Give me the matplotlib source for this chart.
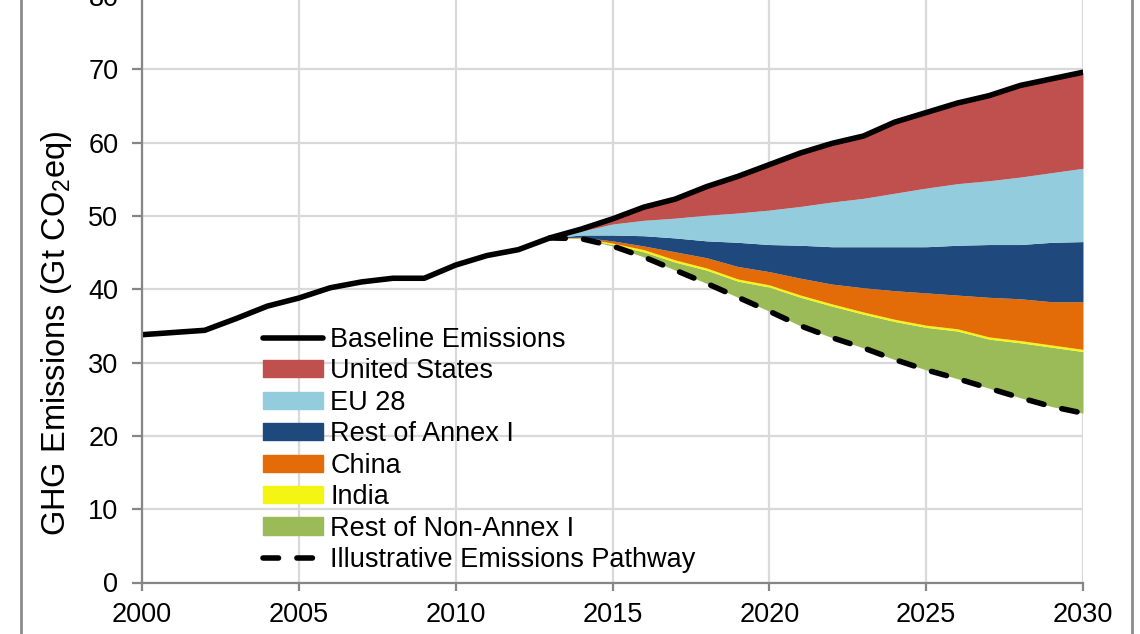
import matplotlib
matplotlib.use("Agg")
import matplotlib.pyplot as plt
from matplotlib.lines import Line2D
import numpy as np

plt.rcParams['font.family'] = ['Liberation Sans', 'DejaVu Sans']
plt.rcParams['mathtext.fontset'] = 'custom'
plt.rcParams['mathtext.rm'] = 'Liberation Sans'
plt.rcParams['mathtext.it'] = 'Liberation Sans'

# Baseline emissions, Gt CO2eq per year
base_years = list(range(2000, 2031))
baseline = [33.8, 34.1, 34.4, 36.0, 37.7, 38.8, 40.2, 41.0, 41.5, 41.5,
            43.3, 44.6, 45.4, 47.0, 48.2, 49.6, 51.2, 52.3, 54.0, 55.4,
            57.0, 58.6, 59.9, 60.9, 62.8, 64.1, 65.4, 66.4, 67.8, 68.7, 69.6]

# Illustrative pathway and regional contributions to the reduction
path_years = list(range(2013, 2031))
pathway = [47.0, 46.9, 45.9, 44.4, 42.6, 40.8, 38.9, 37.0, 35.0, 33.4,
           32.0, 30.4, 29.0, 27.8, 26.5, 25.2, 24.0, 23.1]
rest_non_annex1 = [0.0, 0.05, 0.2, 0.7, 1.1, 1.8, 2.2, 3.3, 3.9, 4.3,
                   4.6, 5.2, 5.8, 6.5, 6.7, 7.5, 8.1, 8.4]
india = [0.0, 0.05, 0.2, 0.3, 0.3, 0.3, 0.3, 0.3, 0.3, 0.3,
         0.3, 0.3, 0.3, 0.3, 0.3, 0.3, 0.3, 0.3]
china = [0.0, 0.1, 0.3, 0.5, 1.1, 1.4, 1.7, 1.8, 2.3, 2.7,
         3.3, 3.9, 4.4, 4.6, 5.4, 5.7, 5.9, 6.5]
rest_annex1 = [0.0, 0.3, 0.8, 1.4, 1.9, 2.3, 3.3, 3.7, 4.5, 5.1,
               5.6, 6.0, 6.3, 6.8, 7.2, 7.4, 8.1, 8.2]
eu28 = [0.0, 0.5, 1.5, 2.1, 2.7, 3.5, 4.0, 4.7, 5.3, 6.1,
        6.6, 7.3, 8.0, 8.4, 8.7, 9.2, 9.5, 10.0]
united_states = [0.0, 0.3, 0.7, 1.8, 2.6, 3.9, 5.0, 6.2, 7.3, 8.0,
                 8.5, 9.7, 10.3, 11.0, 11.6, 12.5, 12.8, 13.1]

region_names = ['Rest of Non-Annex I', 'India', 'China', 'Rest of Annex I',
                'EU 28', 'United States']
region_values = [rest_non_annex1, india, china, rest_annex1, eu28, united_states]
region_colors = ['#9BBB59', '#F5F514', '#E36C09', '#1F497D', '#93CDDD', '#C0504D']

x_ticks = [2000, 2005, 2010, 2015, 2020, 2025, 2030]
y_ticks = [0, 10, 20, 30, 40, 50, 60, 70, 80]

FS = 19.5
W, H = 1140, 634
fig = plt.figure(figsize=(W / 100, H / 100), dpi=100)
ax = fig.add_axes([142 / W, (H - 582.5) / H, (1083 - 142) / W, 586.5 / H])

# stacked reduction wedges sitting on the pathway
lower = np.array(pathway, dtype=float)
handles = {}
for name, vals, col in zip(region_names, region_values, region_colors):
    upper = lower + np.array(vals)
    ax.fill_between(path_years, lower, upper, color=col, linewidth=0, zorder=2)
    handles[name] = plt.Rectangle((0, 0), 1, 1, color=col)
    lower = upper

LW = 4.0
ax.plot(base_years, baseline, color='black', lw=LW, solid_capstyle='round',
        solid_joinstyle='round', zorder=4)
ax.plot(path_years, pathway, color='black', lw=LW, dashes=(2.8, 3.3),
        dash_capstyle='round', zorder=4)

ax.set_xlim(2000, 2030)
ax.set_ylim(0, 80)
ax.set_xticks(x_ticks)
ax.set_yticks(y_ticks)
ax.tick_params(axis='both', labelsize=FS, colors='#868686', labelcolor='black',
               width=1.6)
ax.tick_params(axis='y', length=7, pad=10)
ax.tick_params(axis='x', length=6, pad=8)
ax.grid(True, color='#D9D9D9', lw=1.6, zorder=0)
ax.set_axisbelow(True)
for side in ('top', 'right'):
    ax.spines[side].set_visible(False)
for side in ('left', 'bottom'):
    ax.spines[side].set_color('#868686')
    ax.spines[side].set_linewidth(1.6)
    ax.spines[side].set_zorder(5)

fig.text(57 / W, (H - 333) / H, r'GHG Emissions (Gt CO$_\mathregular{2}$eq)',
         rotation=90, ha='center', va='center', fontsize=23.5)

leg_handles = [Line2D([], [], color='black', lw=LW, solid_capstyle='round')]
leg_labels = ['Baseline Emissions']
for name in ['United States', 'EU 28', 'Rest of Annex I', 'China', 'India',
             'Rest of Non-Annex I']:
    leg_handles.append(handles[name])
    leg_labels.append(name)
leg_handles.append(Line2D([], [], color='black', lw=LW, dashes=(2.8, 3.3),
                          dash_capstyle='round'))
leg_labels.append('Illustrative Emissions Pathway')

ax.legend(leg_handles, leg_labels, loc='upper left',
          bbox_to_anchor=(263 / W, (H - 327) / H), bbox_transform=fig.transFigure,
          frameon=False, fontsize=FS, borderpad=0, borderaxespad=0,
          handlelength=2.2, handleheight=0.6, handletextpad=0.28,
          labelspacing=0.2)

# outer chart frame edges
for xf in (21 / W, 1132 / W):
    fig.add_artist(Line2D([xf, xf], [0, 1], transform=fig.transFigure,
                          color='#8C8C8C', lw=2))

fig.savefig('out.png', dpi=100)
